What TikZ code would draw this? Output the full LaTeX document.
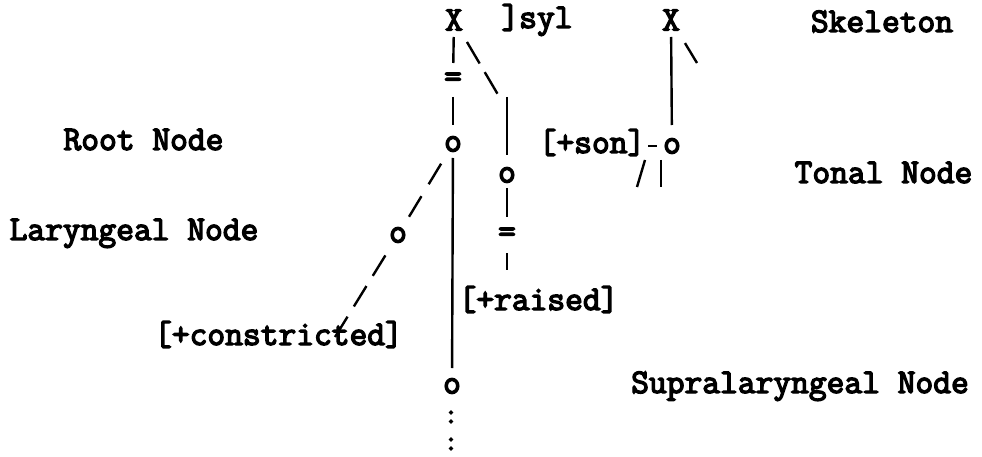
\documentclass[tikz,border=0pt]{standalone}
\usepackage{fontspec}
\newfontfamily\tw{Latin Modern Mono}[FakeBold=4]
\begin{document}
\tikzset{
  txt/.style={font=\tw\fontsize{34.5}{35}\selectfont, inner sep=0pt, outer sep=0pt},
  lbl/.style={txt, anchor=base},
  sym/.style={txt, anchor=center},
  dots/.style={font=\tw\fontsize{28}{28}\selectfont, inner sep=0pt, outer sep=0pt, anchor=center},
  ln/.style={line width=2.4pt, line cap=butt},
}
\begin{tikzpicture}[x=1pt,y=-1pt]
\fill[white] (0,0) rectangle (982,457);
\useasboundingbox (0,0) rectangle (982,457);
% symbols
\node[sym] (X1) at (454,20) {X};
\node[sym] (X2) at (671,20) {X};
\node[sym] (eq1) at (453,80) {=};
\node[sym] (root) at (453,144) {o};
\node[sym] (ob) at (507,175) {o};
\node[sym] (eq2) at (507,235) {=};
\node[sym] (lar) at (398,235) {o};
\node[sym] (supra) at (452,386) {o};
\node[dots] (col1) at (451,417) {:};
\node[dots] (col2) at (451,444) {:};
\node[sym] (sono) at (672,146) {o};
% labels
\node[lbl] (syl) at (537,28) {]syl};
\node[lbl] (skel) at (882,32) {Skeleton};
\node[lbl] (rootlbl) at (143.5,150) {Root Node};
\node[lbl] (tonlbl) at (883.5,183) {Tonal Node};
\node[lbl] (larlbl) at (134,240) {Laryngeal Node};
\node[lbl] (raised) at (538.5,310) {[+raised]};
\node[lbl] (constr) at (278.5,345) {[+constricted]};
\node[lbl] (supralbl) at (800,393) {Supralaryngeal Node};
\node[lbl] (son) at (592,153) {[+son]};
% free ends
\coordinate (c1) at (498.5,95.5);
\coordinate (c2) at (507,97);
\coordinate (c3) at (335,337);
\coordinate (c4) at (697,63);
\coordinate (s1) at (645,160);
\coordinate (s2) at (637,187);
\coordinate (s3) at (661,160);
\coordinate (s4) at (661,187);
% connectors
\draw[ln, shorten <=17pt, shorten >=17pt] (X1.center) -- (eq1.center);
\draw[ln, shorten <=17pt, shorten >=19pt] (eq1.center) -- (root.center);
\draw[ln, shorten <=14pt, shorten >=18pt] (root.center) -- (supra.center);
\draw[ln, shorten <=25.5pt, dash pattern=on 25pt off 10pt] (X1.center) -- (c1);
\draw[ln, shorten >=20pt] (c2) -- (ob.center);
\draw[ln, shorten <=13pt, shorten >=18pt] (ob.center) -- (eq2.center);
\draw[ln, shorten <=18pt, shorten >=16pt] (eq2.center) -- (eq2.center |- raised.north);
\draw[ln, shorten <=23pt, shorten >=21pt, dash pattern=on 24pt off 14pt] (root.center) -- (lar.center);
\draw[ln, shorten <=24pt, dash pattern=on 24pt off 12pt] (lar.center) -- (c3);
\draw[ln, shorten <=17pt, shorten >=21pt] (X2.center) -- (sono.center);
\draw[ln, shorten <=27pt] (X2.center) -- (c4);
\draw[ln] (s1) -- (s2);
\draw[ln] (s3) -- (s4);
\draw[ln, shorten <=3pt, shorten >=6pt] (son.east |- sono.center) -- (sono.west);
\end{tikzpicture}
\end{document}
